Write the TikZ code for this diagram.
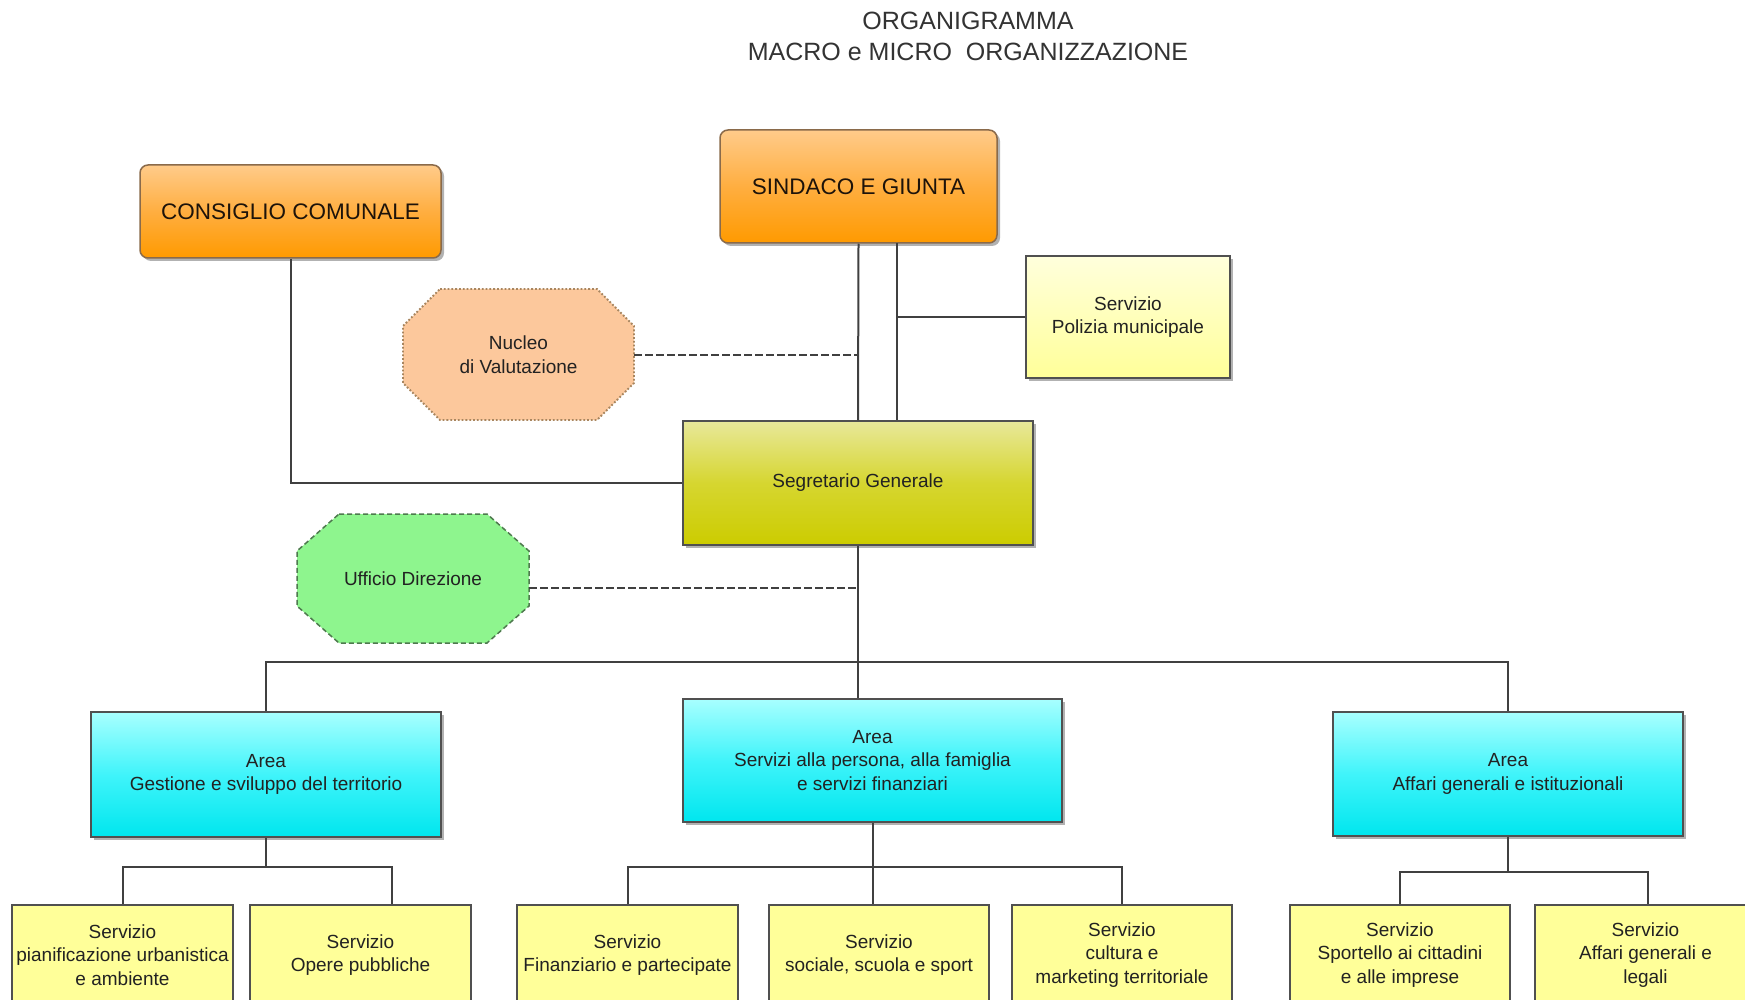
\documentclass[tikz,border=0pt]{standalone}
\usepackage{fontspec}
\setmainfont{Liberation Sans}
\usetikzlibrary{shadows,calc}
\definecolor{linec}{HTML}{404040}
\definecolor{boxborder}{HTML}{505050}
\definecolor{txt}{HTML}{222222}
\definecolor{orbord}{HTML}{8A6A4A}
\definecolor{ortop}{HTML}{FFCB8A}
\definecolor{ormid}{HTML}{FFAE40}
\definecolor{orbot}{HTML}{FF9A00}
\definecolor{cytop}{HTML}{A8FFFF}
\definecolor{cymid}{HTML}{40F4FA}
\definecolor{cybot}{HTML}{00E6EE}
\definecolor{setop}{HTML}{E8E89A}
\definecolor{semid}{HTML}{D6D630}
\definecolor{sebot}{HTML}{CCCC00}
\definecolor{potop}{HTML}{FFFFDC}
\definecolor{pobot}{HTML}{FFFF99}
\definecolor{servfill}{HTML}{FFFF99}
\definecolor{nucfill}{HTML}{FCC89C}
\definecolor{nucbord}{HTML}{A88660}
\definecolor{uffill}{HTML}{8EF58E}
\definecolor{ufbord}{HTML}{4E7A4E}
\begin{document}
\begin{tikzpicture}[x=1pt,y=-1pt,
  base/.style={inner sep=0pt, align=center, text=txt, font=\fontsize{19}{23.5}\selectfont},
  shad/.style={drop shadow={shadow xshift=3pt, shadow yshift=-3pt, opacity=0.3, fill=black}},
  orangebox/.style={base, shad, draw=orbord, line width=1.5pt, rounded corners=8pt,
    top color=ortop, bottom color=orbot, middle color=ormid,
    font=\fontsize{22.5}{27}\selectfont, text=black!85!brown},
  areabox/.style={base, shad, draw=boxborder, line width=1.5pt,
    top color=cytop, bottom color=cybot, middle color=cymid},
  segbox/.style={base, shad, draw=boxborder, line width=1.5pt,
    top color=setop, bottom color=sebot, middle color=semid},
  polbox/.style={base, shad, draw=boxborder, line width=1.5pt,
    top color=potop, bottom color=pobot},
  servbox/.style={base, draw=boxborder, line width=1.5pt, fill=servfill,
    minimum width=221, minimum height=100},
  label/.style={base},
  conn/.style={draw=linec, line width=2pt},
  dconn/.style={draw=linec, line width=2pt, dash pattern=on 8pt off 3pt}
]
\fill[white] (0,0) rectangle (1745,1000);
\clip (0,0) rectangle (1745,1000);

% title
\node[base, text=black!80, font=\fontsize{25}{31}\selectfont] (title) at (968,36)
  {ORGANIGRAMMA\\MACRO e MICRO \ ORGANIZZAZIONE};

% top boxes
\node[orangebox, minimum width=301, minimum height=93] (cons) at (290.5,211.5) {CONSIGLIO COMUNALE};
\node[orangebox, minimum width=277, minimum height=113] (sind) at (858.5,186.5) {SINDACO E GIUNTA};
\node[polbox, minimum width=204, minimum height=122] (pol) at (1128,317) {Servizio\\Polizia municipale};
\node[segbox, minimum width=350, minimum height=124] (seg) at (858,483) {Segretario Generale};

% octagons
\filldraw[fill=nucfill, draw=nucbord, line width=1.8pt, dotted]
  (440,289) -- (597,289) -- (634,326) -- (634,383) -- (597,420) -- (440,420) -- (403,383) -- (403,326) -- cycle;
\node[label, minimum width=231, minimum height=131] (nuc) at (518.5,354.5) {Nucleo\\di Valutazione};
\filldraw[fill=uffill, draw=ufbord, line width=1.5pt, dash pattern=on 5pt off 3pt]
  (339,514) -- (487,514) -- (529,551) -- (529,606) -- (487,643) -- (339,643) -- (297,606) -- (297,551) -- cycle;
\node[label, minimum width=232, minimum height=129] (uff) at (413,578.5) {Ufficio Direzione};

% areas
\node[areabox, minimum width=350, minimum height=125] (a1) at (266,774.5) {Area\\Gestione e sviluppo del territorio};
\node[areabox, minimum width=379, minimum height=123] (a2) at (872.5,760.5) {Area\\Servizi alla persona, alla famiglia\\e servizi finanziari};
\node[areabox, minimum width=350, minimum height=124] (a3) at (1508,774) {Area\\Affari generali e istituzionali};

% services
\node[servbox] (b1) at (122.5,955) {Servizio\\pianificazione urbanistica\\e ambiente};
\node[servbox] (b2) at (360.5,955) {Servizio\\Opere pubbliche};
\node[servbox] (b3) at (627.5,955) {Servizio\\Finanziario e partecipate};
\node[servbox, minimum width=220] (b4) at (879,955) {Servizio\\sociale, scuola e sport};
\node[servbox, minimum width=220] (b5) at (1122,955) {Servizio\\cultura e\\marketing territoriale};
\node[servbox, minimum width=220] (b6) at (1400,955) {Servizio\\Sportello ai cittadini\\e alle imprese};
\node[servbox] (b7) at (1645.5,955) {Servizio\\Affari generali e\\legali};

% connectors
\draw[conn] (cons.south) |- (seg.west);
\draw[conn] (sind.south) -- (seg.north);
\coordinate (s2) at (897,243);
\draw[conn] (s2) -- (s2 |- seg.north);
\draw[conn] (pol.west) -- (pol.west -| s2);
\draw[dconn] (nuc.east) -- (nuc.east -| sind.south);
\coordinate (uffe) at ($(uff.east)+(0,9)$);
\draw[dconn] (uffe) -- (uffe -| seg.south);

\coordinate (bus) at (858,662);
\draw[conn] (seg.south) -- (seg.south |- a2.north);
\draw[conn] (a1.north) |- (bus) -| (a3.north);

\coordinate (a1bus) at ($(a1.south)+(0,29)$);
\coordinate (b2top) at ($(b2.north)+(31.5,0)$);
\draw[conn] (a1.south) -- (a1bus);
\draw[conn] (b1.north) |- (a1bus) -| (b2top);

\coordinate (a2bus) at ($(a2.south)+(0,44)$);
\draw[conn] (a2.south) -- (a2.south |- b4.north);
\draw[conn] (b3.north) |- (a2bus) -| (b5.north);

\coordinate (a3bus) at ($(a3.south)+(0,35)$);
\coordinate (b7top) at ($(b7.north)+(2.5,0)$);
\draw[conn] (a3.south) -- (a3bus);
\draw[conn] (b6.north) |- (a3bus) -| (b7top);
\end{tikzpicture}
\end{document}
